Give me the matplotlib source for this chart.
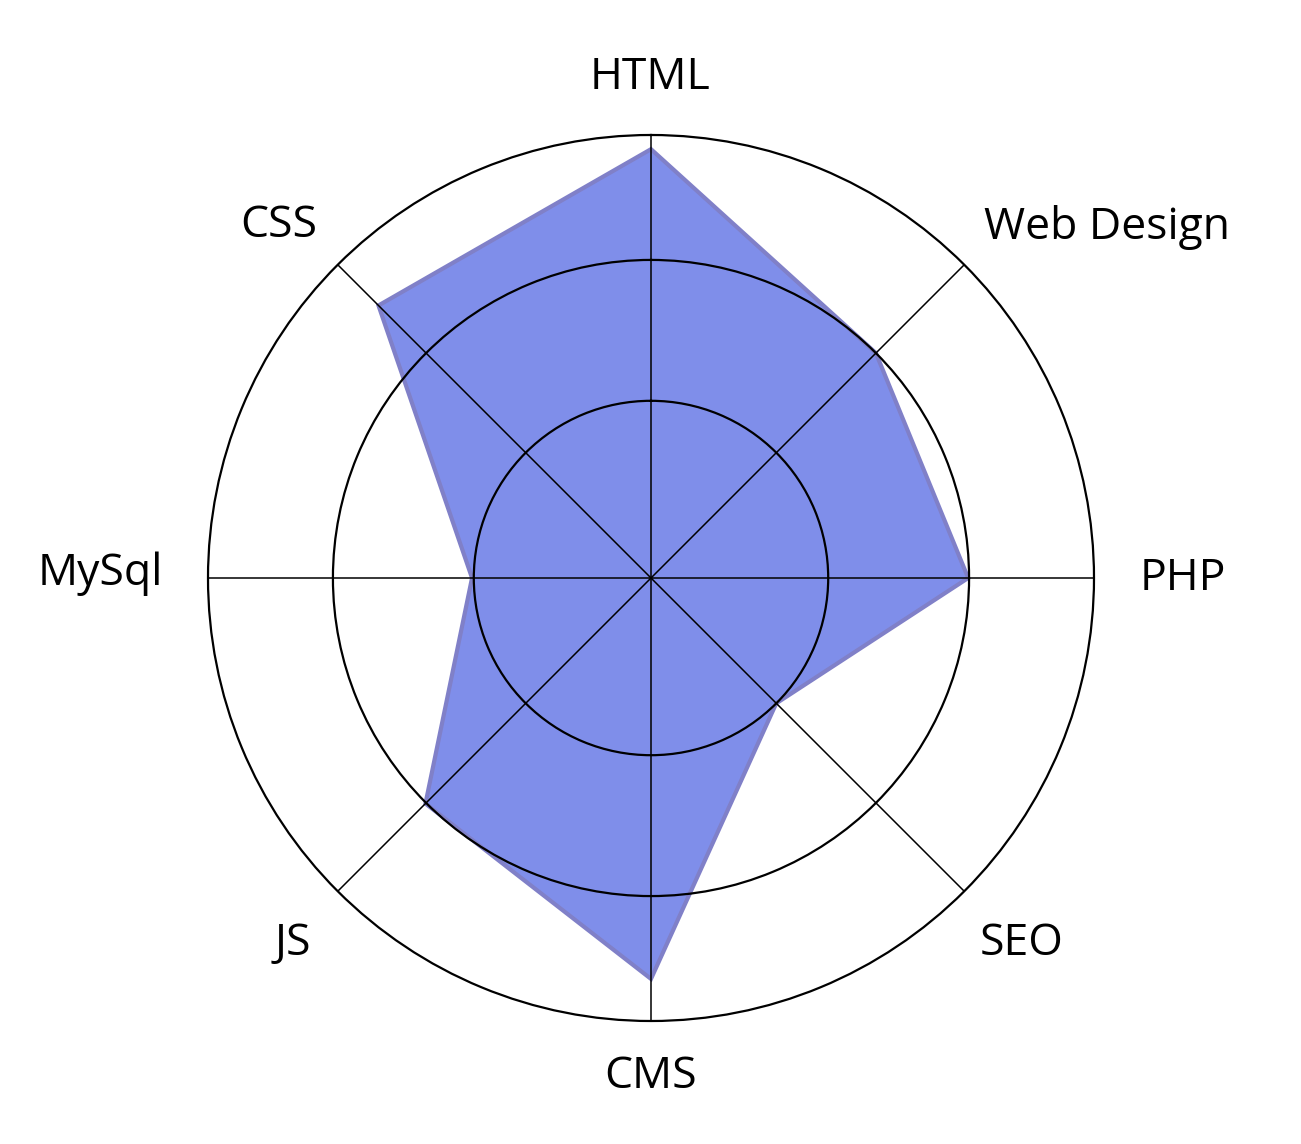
import numpy as np
import matplotlib
matplotlib.use("Agg")
import matplotlib.pyplot as plt

categories = ["HTML", "Web Design", "PHP", "SEO", "CMS", "JS", "MySql", "CSS"]
values = [96.8, 71.8, 71.6, 40.0, 90.5, 72.0, 40.4, 87.0]
grid_values = [40, 71.8]
r_max = 100

# label placement (figure pixel coords: centre x, baseline y from top)
label_x = [650, 1107, 1183, 1022, 651, 293, 100, 279]
label_y = [89, 239, 590, 955, 1088, 955, 585, 237]

W, H = 1301, 1144
fig = plt.figure(figsize=(W / 100, H / 100), dpi=100)
cx, cy, R = 651, 578, 443
ax = fig.add_axes([(cx - R) / W, (H - cy - R) / H, 2 * R / W, 2 * R / H], projection="polar")
ax.set_theta_zero_location("N")
ax.set_theta_direction(-1)

n = len(categories)
angles = np.arange(n) * 2 * np.pi / n
ang_c = np.concatenate([angles, angles[:1]])
val_c = np.concatenate([values, values[:1]])

ax.fill(ang_c, val_c, facecolor="#7f8eea", edgecolor="#8080c8", linewidth=3.0,
        joinstyle="miter", zorder=1)

ax.set_ylim(0, r_max)
ax.set_xticks(angles)
ax.set_xticklabels([])
ax.set_yticks(grid_values)
ax.set_yticklabels([])
ax.xaxis.grid(True, color="black", linewidth=1.1)
ax.yaxis.grid(True, color="black", linewidth=1.6)
ax.tick_params(length=0)
ax.spines["polar"].set_color("black")
ax.spines["polar"].set_linewidth(1.6)

for lab, x, y in zip(categories, label_x, label_y):
    fig.text(x / W, 1 - y / H, lab, ha="center", va="baseline",
             fontsize=32, family="Open Sans", color="black")

fig.savefig("out.png", dpi=100)
